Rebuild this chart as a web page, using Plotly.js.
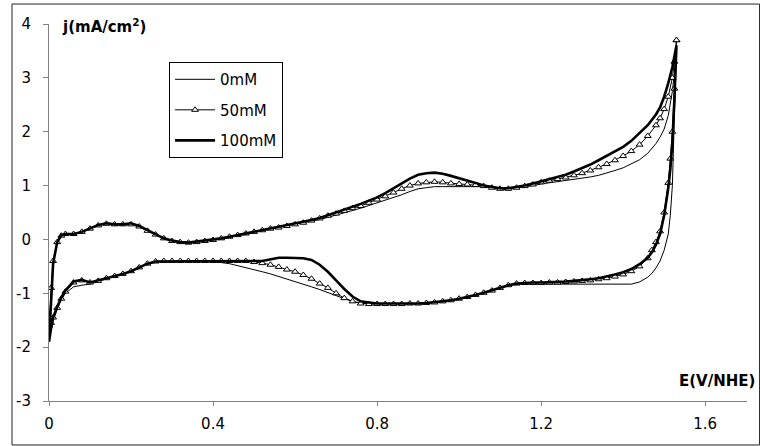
<!DOCTYPE html>
<html>
<head>
<meta charset="utf-8">
<script src="https://cdn.plot.ly/plotly-3.0.1.min.js"></script>
<style>html,body{margin:0;padding:0;background:#fff;}#chart{width:760px;height:446px;}</style>
</head>
<body>
<div id="chart"></div>
<script>
// Potential grid, anodic (forward) sweep, V vs NHE
const E_anodic = [
  0, 0.005, 0.01, 0.02, 0.03, 0.04, 0.06, 0.08, 0.10, 0.12,
  0.14, 0.16, 0.18, 0.20, 0.22, 0.24, 0.26, 0.28, 0.30, 0.32,
  0.34, 0.36, 0.38, 0.40, 0.42, 0.44, 0.46, 0.48, 0.50, 0.52,
  0.54, 0.56, 0.58, 0.60, 0.62, 0.64, 0.66, 0.68, 0.70, 0.72,
  0.74, 0.76, 0.78, 0.80, 0.82, 0.84, 0.86, 0.88, 0.90, 0.92,
  0.94, 0.96, 0.98, 1.00, 1.02, 1.04, 1.06, 1.08, 1.10, 1.12,
  1.14, 1.16, 1.18, 1.20, 1.22, 1.24, 1.26, 1.28, 1.30, 1.32,
  1.34, 1.36, 1.38, 1.40, 1.42, 1.44, 1.46, 1.48, 1.49, 1.50,
  1.51, 1.52, 1.525, 1.53
];
// Potential grid, cathodic (reverse) sweep
const E_cathodic = [
  1.53, 1.525, 1.52, 1.515, 1.51, 1.50, 1.49, 1.48, 1.47, 1.46,
  1.44, 1.42, 1.40, 1.38, 1.36, 1.34, 1.32, 1.30, 1.28, 1.26,
  1.24, 1.22, 1.20, 1.18, 1.16, 1.14, 1.12, 1.10, 1.08, 1.06,
  1.04, 1.02, 1.00, 0.98, 0.96, 0.94, 0.92, 0.90, 0.88, 0.86,
  0.84, 0.82, 0.80, 0.78, 0.76, 0.74, 0.72, 0.70, 0.68, 0.66,
  0.64, 0.62, 0.60, 0.58, 0.56, 0.54, 0.52, 0.50, 0.48, 0.46,
  0.44, 0.42, 0.40, 0.38, 0.36, 0.34, 0.32, 0.30, 0.28, 0.26,
  0.24, 0.22, 0.20, 0.18, 0.16, 0.14, 0.12, 0.10, 0.08, 0.06,
  0.04, 0.03, 0.02, 0.01, 0.005, 0
];

// 0 mM
const j0_anodic = [
  -1.75, -1.0, -0.45, -0.06, 0.06, 0.09, 0.1, 0.13, 0.19, 0.26,
  0.29, 0.28, 0.27, 0.28, 0.23, 0.16, 0.09, 0.01, -0.03, -0.06,
  -0.07, -0.05, -0.04, -0.02, 0.01, 0.04, 0.07, 0.1, 0.13, 0.16,
  0.19, 0.21, 0.24, 0.27, 0.3, 0.33, 0.37, 0.41, 0.45, 0.5,
  0.54, 0.58, 0.63, 0.68, 0.72, 0.77, 0.83, 0.89, 0.94, 0.96,
  0.98, 0.98, 0.98, 0.98, 0.98, 0.99, 0.98, 0.95, 0.93, 0.93,
  0.95, 0.97, 1.0, 1.03, 1.05, 1.07, 1.09, 1.11, 1.13, 1.16,
  1.19, 1.23, 1.28, 1.33, 1.4, 1.48, 1.6, 1.78, 1.9, 2.05,
  2.3, 2.75, 3.1, 3.5
];
const j0_cathodic = [
  3.5, 2.3, 1.0, 0.45, 0.1, -0.2, -0.4, -0.53, -0.63, -0.7,
  -0.79, -0.83, -0.83, -0.83, -0.83, -0.83, -0.83, -0.83, -0.83, -0.83,
  -0.83, -0.83, -0.83, -0.83, -0.83, -0.83, -0.86, -0.91, -0.96, -1.0,
  -1.04, -1.08, -1.11, -1.14, -1.16, -1.18, -1.19, -1.2, -1.2, -1.21,
  -1.21, -1.21, -1.2, -1.2, -1.18, -1.15, -1.1, -1.04, -0.98, -0.93,
  -0.88, -0.83, -0.78, -0.73, -0.68, -0.64, -0.6, -0.56, -0.52, -0.48,
  -0.45, -0.43, -0.41, -0.4, -0.4, -0.4, -0.4, -0.4, -0.4, -0.41,
  -0.45, -0.52, -0.59, -0.64, -0.68, -0.73, -0.78, -0.83, -0.85, -0.88,
  -1.0, -1.12, -1.3, -1.5, -1.62, -1.75
];

// 50 mM
const j50_anodic = [
  -1.6, -0.9, -0.4, -0.05, 0.07, 0.1, 0.1, 0.14, 0.2, 0.26,
  0.29, 0.28, 0.28, 0.28, 0.24, 0.16, 0.09, 0.02, -0.03, -0.05,
  -0.06, -0.05, -0.03, -0.01, 0.02, 0.05, 0.08, 0.11, 0.14, 0.17,
  0.2, 0.22, 0.25, 0.28, 0.31, 0.35, 0.39, 0.44, 0.48, 0.53,
  0.58, 0.62, 0.68, 0.74, 0.8, 0.87, 0.94, 1.0, 1.04, 1.06,
  1.07, 1.06, 1.04, 1.03, 1.02, 1.01, 0.99, 0.96, 0.94, 0.94,
  0.96, 0.99, 1.02, 1.06, 1.09, 1.12, 1.15, 1.19, 1.23, 1.28,
  1.34, 1.4, 1.47, 1.55, 1.64, 1.76, 1.92, 2.12, 2.25, 2.42,
  2.65, 3.0, 3.3, 3.7
];
const j50_cathodic = [
  3.7, 2.8, 2.0, 1.5, 1.05, 0.5, 0.15, -0.05, -0.2, -0.35,
  -0.5, -0.59, -0.65, -0.69, -0.72, -0.74, -0.76, -0.77, -0.78, -0.79,
  -0.8, -0.8, -0.81, -0.81, -0.81, -0.82, -0.85, -0.9, -0.95, -0.99,
  -1.03, -1.07, -1.1, -1.13, -1.15, -1.17, -1.18, -1.19, -1.19, -1.2,
  -1.2, -1.2, -1.2, -1.2, -1.19, -1.15, -1.09, -1.0, -0.9, -0.82,
  -0.73, -0.66, -0.6, -0.56, -0.51, -0.47, -0.44, -0.42, -0.4, -0.4,
  -0.4, -0.4, -0.4, -0.4, -0.4, -0.4, -0.4, -0.4, -0.4, -0.41,
  -0.45, -0.52, -0.59, -0.64, -0.68, -0.72, -0.77, -0.8, -0.76, -0.8,
  -0.97, -1.1, -1.27, -1.45, -1.55, -1.6
];

// 100 mM
const j100_anodic = [
  -1.9, -1.1, -0.45, -0.05, 0.08, 0.1, 0.1, 0.14, 0.2, 0.27,
  0.3, 0.28, 0.28, 0.3, 0.25, 0.17, 0.1, 0.02, -0.02, -0.05,
  -0.06, -0.04, -0.03, 0.0, 0.02, 0.05, 0.08, 0.12, 0.15, 0.18,
  0.2, 0.23, 0.26, 0.29, 0.32, 0.36, 0.4, 0.45, 0.5, 0.55,
  0.6, 0.66, 0.72, 0.78, 0.86, 0.95, 1.04, 1.13, 1.2, 1.23,
  1.24, 1.22, 1.18, 1.14, 1.1, 1.05, 1.0, 0.97, 0.95, 0.95,
  0.97, 1.0, 1.04, 1.08, 1.12, 1.16, 1.2, 1.26, 1.32, 1.39,
  1.47, 1.55, 1.63, 1.72, 1.83, 1.97, 2.12, 2.32, 2.45, 2.65,
  2.9, 3.2, 3.4, 3.6
];
const j100_cathodic = [
  3.6, 2.6, 1.8, 1.3, 0.95, 0.45, 0.1, -0.1, -0.24, -0.34,
  -0.46, -0.55, -0.61, -0.65, -0.69, -0.72, -0.74, -0.76, -0.77, -0.78,
  -0.79, -0.8, -0.8, -0.8, -0.81, -0.82, -0.85, -0.9, -0.95, -0.99,
  -1.03, -1.07, -1.1, -1.13, -1.15, -1.17, -1.18, -1.19, -1.19, -1.2,
  -1.2, -1.2, -1.19, -1.17, -1.15, -1.06, -0.92, -0.76, -0.6, -0.47,
  -0.38, -0.35, -0.34, -0.34, -0.34, -0.37, -0.4, -0.4, -0.4, -0.4,
  -0.4, -0.4, -0.4, -0.4, -0.4, -0.4, -0.4, -0.4, -0.4, -0.41,
  -0.45, -0.52, -0.59, -0.64, -0.68, -0.72, -0.77, -0.8, -0.75, -0.78,
  -0.95, -1.08, -1.25, -1.45, -1.65, -1.9
];

const seriesNames = ['0mM', '50mM', '100mM'];
const yTickVals = [-3, -2, -1, 0, 1, 2, 3, 4];
const yTickText = ['-3', '-2', '-1', '0', '1', '2', '3', '4'];
const xTickVals = [0, 0.4, 0.8, 1.2, 1.6];
const xTickText = ['0', '0.4', '0.8', '1.2', '1.6'];

const Ex = E_anodic.concat(E_cathodic);
const FONT = 'DejaVu Sans, Liberation Sans, Arial, sans-serif';

const traces = [
  {
    x: Ex, y: j0_anodic.concat(j0_cathodic), name: seriesNames[0],
    type: 'scatter', mode: 'lines', legendgroup: 'a',
    line: {color: '#000', width: 1}
  },
  {
    x: Ex, y: j50_anodic.concat(j50_cathodic), name: seriesNames[1],
    type: 'scatter', mode: 'lines+markers', legendgroup: 'b',
    line: {color: '#000', width: 1},
    marker: {symbol: 'triangle-up', size: 6, color: '#fff', line: {color: '#000', width: 1}}
  },
  {
    x: Ex, y: j100_anodic.concat(j100_cathodic), name: seriesNames[2],
    type: 'scatter', mode: 'lines', legendgroup: 'c',
    line: {color: '#000', width: 2.6}
  }
];

const layout = {
  width: 760, height: 446,
  paper_bgcolor: '#fff', plot_bgcolor: '#fff',
  margin: {l: 49, r: 13, t: 24, b: 45, pad: 0},
  font: {family: FONT, size: 15, color: '#000'},
  showlegend: true,
  legend: {
    x: 0.172, y: 0.899, xanchor: 'left', yanchor: 'top',
    bgcolor: '#fff', bordercolor: '#000', borderwidth: 1,
    font: {family: FONT, size: 15, color: '#000'},
    itemwidth: 40, tracegroupgap: 8, traceorder: 'grouped'
  },
  xaxis: {
    range: [0, 1.702], showgrid: false, zeroline: false,
    showline: true, linecolor: '#808080', linewidth: 1,
    ticks: 'outside', ticklen: 4, tickcolor: '#808080', tickwidth: 1,
    tickmode: 'array', tickvals: xTickVals, ticktext: xTickText,
    ticklabelstandoff: 5,
    tickfont: {family: FONT, size: 15, color: '#000'}
  },
  yaxis: {
    range: [-3, 4], showgrid: false, zeroline: false,
    showline: true, linecolor: '#808080', linewidth: 1,
    ticks: 'outside', ticklen: 5, tickcolor: '#808080', tickwidth: 1,
    tickmode: 'array', tickvals: yTickVals, ticktext: yTickText,
    ticklabelstandoff: 9,
    tickfont: {family: FONT, size: 15, color: '#000'}
  },
  annotations: [
    {
      xref: 'paper', yref: 'paper', x: 0.016, y: 1.026, xanchor: 'left', yanchor: 'top',
      text: '<b>j(mA/cm<sup>2</sup>)</b>', showarrow: false,
      font: {family: FONT, size: 15, color: '#000'}
    },
    {
      xref: 'paper', yref: 'paper', x: 1.0143, y: 0.025, xanchor: 'right', yanchor: 'bottom',
      text: '<b>E(V/NHE)</b>', showarrow: false,
      font: {family: FONT, size: 15, color: '#000'}
    }
  ],
  shapes: [
    {
      type: 'rect', xref: 'paper', yref: 'paper',
      x0: -0.053, x1: 1.018, y0: -0.1167, y1: 1.053,
      line: {color: '#222', width: 1}, fillcolor: 'rgba(0,0,0,0)', layer: 'below'
    }
  ]
};

Plotly.newPlot('chart', traces, layout, {displayModeBar: false, staticPlot: true});
</script>
</body>
</html>
